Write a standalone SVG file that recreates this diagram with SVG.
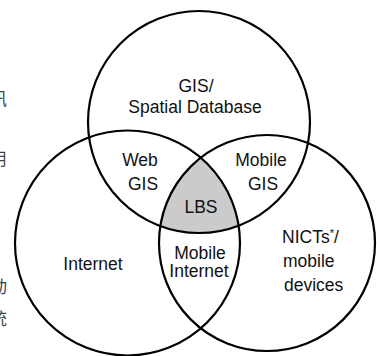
<svg xmlns="http://www.w3.org/2000/svg" width="377" height="356" viewBox="0 0 377 356">
<style>
.c{fill:none;stroke:#000;stroke-width:2.2}
.t{font-family:"Liberation Sans",Arial,sans-serif;font-size:17.5px;fill:#111;text-anchor:middle}
.z{font-family:"Noto Sans CJK SC",sans-serif;font-size:17px;fill:#444}
</style>
<defs>
<clipPath id="cL"><circle cx="127.5" cy="243" r="112.5"/></clipPath>
<clipPath id="cR"><circle cx="267" cy="243" r="108"/></clipPath>
</defs>
<g id="fragments">
<text class="z" x="-10" y="105">讯</text>
<text class="z" x="-10" y="165">用</text>
<text class="z" x="-10" y="199">，</text>
<text class="z" x="-10" y="293">动</text>
<text class="z" x="-10" y="325">统</text>
</g>
<g id="lbs-fill" clip-path="url(#cL)"><circle cx="199" cy="122" r="111" fill="#cbcbcb" clip-path="url(#cR)"/></g>
<g id="connectors"></g>
<g id="gis"><circle class="c" cx="199" cy="122" r="111"/>
<text class="t" x="196" y="92">GIS/</text><text class="t" x="195" y="113">Spatial Database</text></g>
<g id="internet"><circle class="c" cx="127.5" cy="243" r="112.5"/>
<text class="t" x="93" y="270">Internet</text></g>
<g id="nicts"><circle class="c" cx="267" cy="243" r="108"/>
<text class="t" style="text-anchor:start" x="282" y="243">NICTs<tspan font-size="11" dy="-6">*</tspan><tspan dy="6">/</tspan></text>
<text class="t" style="text-anchor:start" x="283" y="267">mobile</text>
<text class="t" style="text-anchor:start" x="284" y="291">devices</text></g>
<g id="webgis"><text class="t" x="140" y="166">Web</text><text class="t" x="143" y="190">GIS</text></g>
<g id="mobilegis"><text class="t" x="261" y="166">Mobile</text><text class="t" x="263" y="190">GIS</text></g>
<g id="lbs"><text class="t" x="201" y="213">LBS</text></g>
<g id="mobileinternet"><text class="t" x="200" y="259">Mobile</text><text class="t" x="199" y="277">Internet</text></g>
</svg>
